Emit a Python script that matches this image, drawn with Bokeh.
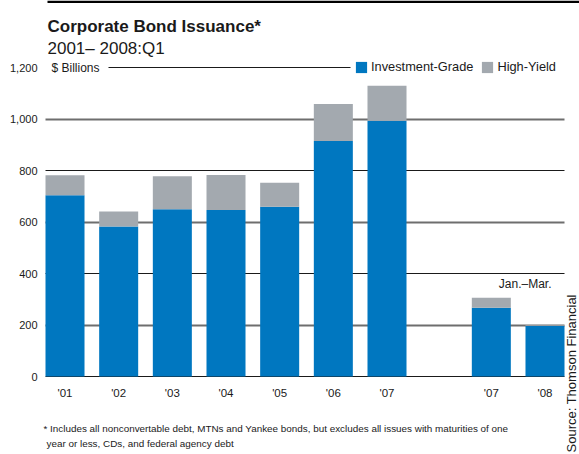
from bokeh.plotting import figure
from bokeh.models import (FactorRange, Range1d, FixedTicker, NumeralTickFormatter,
                          Grid, Label, BoxAnnotation, ColumnDataSource)
from bokeh.core.properties import value
from bokeh.embed import file_html
from bokeh.resources import INLINE

# ---- data ----
groups = ["Annual", "Annual", "Annual", "Annual", "Annual", "Annual", "Annual", "Q1", "Q1"]
periods = ["'01", "'02", "'03", "'04", "'05", "'06", "'07", "'07", "'08"]
investment_grade = [704, 583, 650, 647, 659, 915, 993, 267, 196]
high_yield = [78, 58, 128, 136, 93, 143, 136, 39, 3]
y_ticks = [0, 200, 400, 600, 800, 1000, 1200]

FONT = "Liberation Sans"
BLUE = "#0077c0"
GREY = "#a3a9af"
TXT = "#1a1a1a"

factors = list(zip(groups, periods))
source = ColumnDataSource(dict(x=factors, ig=investment_grade, hy=high_yield,
                               lab=periods, base=[0] * len(periods)))

p = figure(width=579, height=454, output_backend="svg", toolbar_location=None,
           x_range=FactorRange(factors=factors, factor_padding=0, group_padding=0.944,
                               range_padding=0.143, range_padding_units="absolute"),
           y_range=Range1d(-302.9, 1460.2),
           x_axis_location=None, y_axis_location="left",
           min_border_left=30, min_border_right=0, min_border_top=0, min_border_bottom=0)
p.outline_line_color = None
p.background_fill_color = "white"
p.border_fill_color = "white"

# grids (limited to the bar area)
p.xgrid.visible = False
p.ygrid.visible = False
xb = (0.1365, 9.8075)
p.add_layout(Grid(dimension=1, ticker=FixedTicker(ticks=[0, 400, 800]),
                  cross_bounds=xb, grid_line_color="#1a1a1a", grid_line_width=1.2))
p.add_layout(Grid(dimension=1, ticker=FixedTicker(ticks=[1200]),
                  cross_bounds=(1.31, 5.82), grid_line_color="#1a1a1a", grid_line_width=1.2))
p.add_layout(Grid(dimension=1, ticker=FixedTicker(ticks=[200, 600, 1000]),
                  cross_bounds=xb, grid_line_color="#6e6e6e", grid_line_width=2))

p.vbar_stack(["ig", "hy"], x="x", width=0.727, source=source, color=[BLUE, GREY],
             line_color=None, legend_label=["Investment-Grade", "High-Yield"])

# x labels under each bar
p.text(x="x", y="base", text="lab", source=source, y_offset=16,
       text_align="center", text_baseline="middle",
       text_font=value(FONT), text_font_size="11.5px", text_color=TXT)

# y axis
yax = p.yaxis[0]
yax.ticker = FixedTicker(ticks=y_ticks)
yax.formatter = NumeralTickFormatter(format="0,0")
yax.axis_line_color = None
yax.major_tick_line_color = None
yax.minor_tick_line_color = None
yax.major_tick_out = 0
yax.major_tick_in = 0
yax.major_label_standoff = -7
yax.major_label_text_font = FONT
yax.major_label_text_font_size = "11px"
yax.major_label_text_color = TXT

# legend
lg = p.legend[0]
lg.orientation = "horizontal"
lg.location = (324, 380)
lg.padding = 7
lg.margin = 0
lg.spacing = 7
lg.label_standoff = 3
lg.glyph_width = 14
lg.glyph_height = 14
lg.label_height = 14
lg.label_text_font = FONT
lg.label_text_font_size = "12.8px"
lg.label_text_color = TXT
lg.border_line_color = None
lg.background_fill_color = "white"
lg.background_fill_alpha = 1

# texts (screen units measured from the frame's lower-left corner)
def lab(text, x, y, size, **kw):
    l = Label(text=text, x=x, y=y, x_units="screen", y_units="screen",
              text_font=FONT, text_font_size=size, text_color=TXT, **kw)
    p.add_layout(l)
    return l

lab("Corporate Bond Issuance*", 17, 428, "17px", text_font_style="bold",
    text_baseline="alphabetic")
lab("2001\u2013 2008:Q1", 17, 406, "17px", text_baseline="alphabetic")
lab("$ Billions", 21, 387, "12px", text_baseline="middle")
lab("Jan.\u2013Mar.", 521, 171, "12px", text_align="right", text_baseline="middle")
lab("* Includes all nonconvertable debt, MTNs and Yankee bonds, but excludes all issues with maturities of one",
    13, 26, "9.9px", text_baseline="middle")
lab("year or less, CDs, and federal agency debt", 16, 11, "9.9px", text_baseline="middle")
lab("Source: Thomson Financial", 541, 2, "13px", angle=90, angle_units="deg",
    text_baseline="middle")

p.add_layout(BoxAnnotation(left=17, right=549, top=454, bottom=451.5,
                           left_units="screen", right_units="screen",
                           top_units="screen", bottom_units="screen",
                           fill_color="black", fill_alpha=1, line_color=None))

open("out.html", "w").write(file_html(p, INLINE))
